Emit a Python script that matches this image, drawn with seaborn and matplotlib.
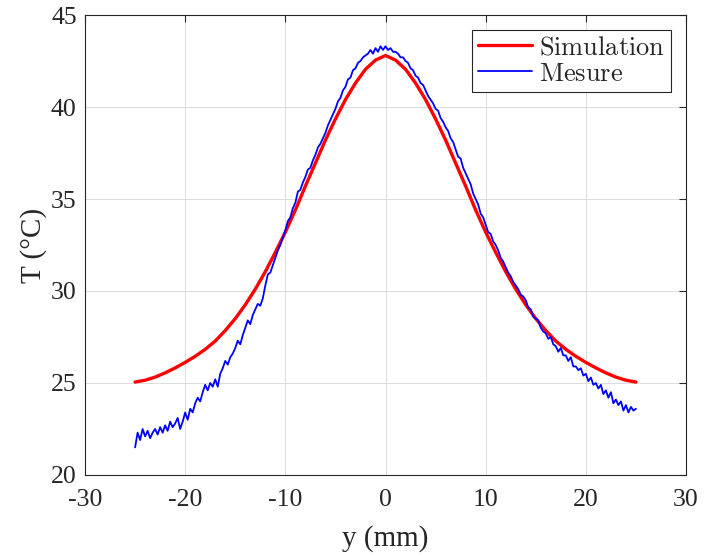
import numpy as np
import pandas as pd
import matplotlib
matplotlib.use("Agg")
import matplotlib.pyplot as plt
import seaborn as sns

# simulated profile, 1 mm step from -25 to 25
sim_y = list(range(-25, 26))
sim_T = [25.05, 25.15, 25.32, 25.55, 25.82, 26.12, 26.45, 26.83, 27.28, 27.85,
         28.5, 29.25, 30.1, 31.05, 32.1, 33.2, 34.4, 35.7, 36.95, 38.2,
         39.35, 40.4, 41.3, 42.05, 42.55, 42.8,
         42.55, 42.05, 41.3, 40.4, 39.35, 38.2, 36.95, 35.7, 34.4, 33.2,
         32.1, 31.05, 30.1, 29.25, 28.5, 27.85, 27.28, 26.83, 26.45, 26.12,
         25.82, 25.55, 25.32, 25.15, 25.05]

# measured profile, 0.25 mm step from -25 to 25
mes_y = [i * 0.25 for i in range(-100, 101)]
mes_T = [21.5, 22.3, 21.9, 22.5,
         22.1, 22.4, 22.0, 22.3,
         22.5, 22.2, 22.6, 22.3,
         22.7, 22.4, 22.9, 22.6,
         22.8, 23.1, 22.5, 22.9,
         23.4, 23.0, 23.6, 23.4,
         23.9, 24.2, 24.0, 24.5,
         24.9, 24.6, 25.0, 24.8,
         25.2, 24.8, 25.5, 25.8,
         26.2, 26.0, 26.4, 26.6,
         26.9, 27.3, 27.1, 27.6,
         28.0, 28.4, 28.2, 28.7,
         29.0, 29.3, 29.2, 29.6,
         30.3, 30.9, 31.0, 31.4,
         31.8, 32.2, 32.5, 32.9,
         33.3, 33.8, 34.0, 34.5,
         34.8, 35.4, 35.5, 35.9,
         36.2, 36.6, 36.7, 37.1,
         37.4, 37.8, 38.0, 38.3,
         38.6, 39.0, 39.3, 39.6,
         39.9, 40.3, 40.5, 40.9,
         41.1, 41.5, 41.6, 42.0,
         42.1, 42.4, 42.5, 42.7,
         42.8, 42.9, 43.1, 42.9,
         43.2, 43.0, 43.3, 43.1,
         43.3, 43.1, 43.2, 43.0,
         43.0, 42.9, 42.7, 42.7,
         42.5, 42.4, 42.1, 42.0,
         41.7, 41.6, 41.3, 41.2,
         40.9, 40.6, 40.4, 40.2,
         39.9, 39.8, 39.4, 39.2,
         38.9, 38.7, 38.3, 38.1,
         37.7, 37.3, 37.2, 36.7,
         36.4, 36.1, 35.8, 35.3,
         35.0, 34.7, 34.2, 34.0,
         33.6, 33.2, 33.1, 32.7,
         32.5, 32.2, 31.8, 31.6,
         31.3, 31.0, 30.8, 30.5,
         30.3, 30.1, 29.8, 29.7,
         29.5, 29.1, 29.0, 28.6,
         28.5, 28.4, 28.0, 27.8,
         27.7, 27.4, 27.5, 27.1,
         27.0, 26.7, 26.9, 26.5,
         26.5, 26.2, 26.4, 25.9,
         25.9, 25.7, 25.8, 25.4,
         25.5, 25.1, 25.3, 24.9,
         25.0, 24.7, 24.9, 24.4,
         24.6, 24.2, 24.5, 23.9,
         24.1, 23.8, 24.0, 23.5,
         23.8, 23.4, 23.7, 23.5,
         23.6]

x_ticks = [-30, -20, -10, 0, 10, 20, 30]
y_ticks = [20, 25, 30, 35, 40, 45]

sns.set_style("whitegrid")
plt.rcParams['font.family'] = ['Liberation Serif', 'DejaVu Serif']
plt.rcParams['mathtext.fontset'] = 'cm'

sim_df = pd.DataFrame({'y': sim_y, 'T': sim_T})
mes_df = pd.DataFrame({'y': mes_y, 'T': mes_T})

fig = plt.figure(figsize=(7.12, 5.56), dpi=100)
ax = fig.add_axes([0.1194, 0.1457, 0.8441, 0.8273])

sns.lineplot(data=sim_df, x='y', y='T', ax=ax, color='red', linewidth=2.4,
             sort=False, estimator=None, label=r'$\mathrm{Simulation}$')
sns.lineplot(data=mes_df, x='y', y='T', ax=ax, color='blue', linewidth=1.3,
             sort=False, estimator=None, label=r'$\mathrm{Mesure}$')

ax.set_xlim(-30, 30)
ax.set_ylim(20, 45)
ax.set_xticks(x_ticks)
ax.set_yticks(y_ticks)
ax.set_xticklabels([str(t) for t in x_ticks])
ax.tick_params(axis='both', direction='in', length=5, width=0.8, color='#262626',
               labelsize=18.5, top=True, right=True)
ax.tick_params(axis='x', pad=10)
ax.tick_params(axis='y', pad=6)
ax.grid(True, color='#dcdcdc', linewidth=0.7)
for s in ax.spines.values():
    s.set_color('#262626')
    s.set_linewidth(0.8)

ax.set_xlabel('y (mm)', fontsize=21, labelpad=10)
ax.set_ylabel('T (°C)', fontsize=21, labelpad=3)

leg = ax.legend(loc='upper right', fontsize=19, frameon=True, fancybox=False,
                borderaxespad=0.55, handlelength=2.05, handletextpad=0.25,
                labelspacing=0.1, borderpad=0.25)
leg.get_frame().set_edgecolor('#262626')
leg.get_frame().set_linewidth(0.8)
leg.get_frame().set_alpha(1)

fig.savefig('out.png', dpi=100)
